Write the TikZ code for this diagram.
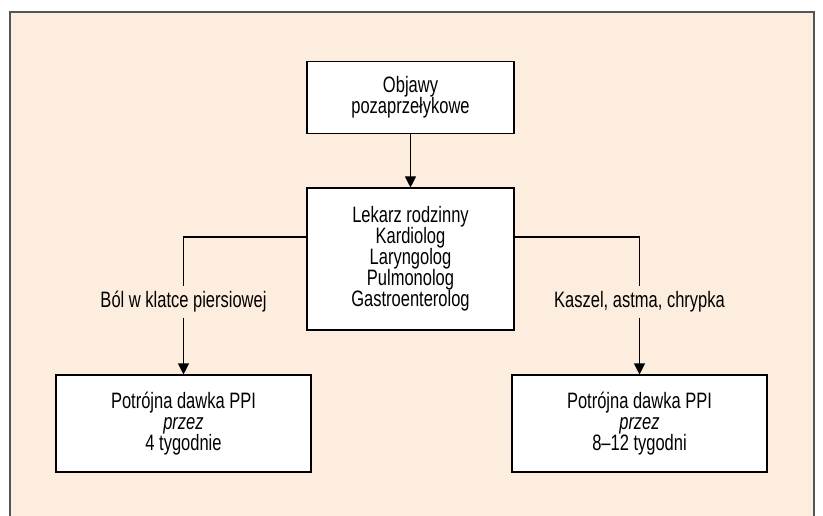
\documentclass[tikz,border=0pt]{standalone}
\usepackage{fontspec}
\setmainfont[FakeStretch=0.74]{Liberation Sans}
\usetikzlibrary{arrows.meta}
\definecolor{peach}{RGB}{253,237,222}
\definecolor{framegray}{RGB}{85,85,85}

\begin{document}
\begin{tikzpicture}[x=1pt,y=-1pt]
        \tikzset{box/.style = {draw, fill=white, line width=1.1pt, align=center, inner sep=0pt, font=\fontsize{22.3}{21}\selectfont}}
        \tikzset{branch/.style = {inner sep=0pt, minimum height=31pt, font=\fontsize{22.3}{21}\selectfont}}
        \tikzset{edge/.style = {-{Triangle[width=11pt,length=11pt]}, line width=1.1pt}}
        \useasboundingbox (0,0) rectangle (823,516);
        % frame
        \fill[peach] (10,12) rectangle (814,516);
        \draw[framegray, line width=1.6pt] (10,516) -- (10,12) -- (814,12) -- (814,516);
        % boxes
        \node[box, minimum width=207pt, minimum height=72pt] (obj) at (410.5,97.5) {Objawy\\pozaprzełykowe};
        \node[box, minimum width=207pt, minimum height=142pt] (lek) at (410.5,259) {Lekarz rodzinny\\Kardiolog\\Laryngolog\\Pulmonolog\\Gastroenterolog};
        \node[box, minimum width=255pt, minimum height=97pt] (ppi4) at (183.5,423.5) {Potrójna dawka PPI\\\textit{przez}\\4 tygodnie};
        \node[box, minimum width=255pt, minimum height=97pt] (ppi8) at (639.5,423.5) {Potrójna dawka PPI\\\textit{przez}\\8--12 tygodni};
        % branch labels
        \node[branch] (bol) at (183.5,302) {Ból w klatce piersiowej};
        \node[branch] (kas) at (639.5,302) {Kaszel, astma, chrypka};
        \coordinate (lekl) at (307,237);
        \coordinate (lekr) at (514,237);
        % edges
        \draw[edge] (obj) -- (lek);
        \draw[line width=1.1pt] (lekl) -| (bol.north);
        \draw[line width=1.1pt] (lekr) -| (kas.north);
        \draw[edge] (bol.south) -- (ppi4.north);
        \draw[edge] (kas.south) -- (ppi8.north);
\end{tikzpicture}
\end{document}
